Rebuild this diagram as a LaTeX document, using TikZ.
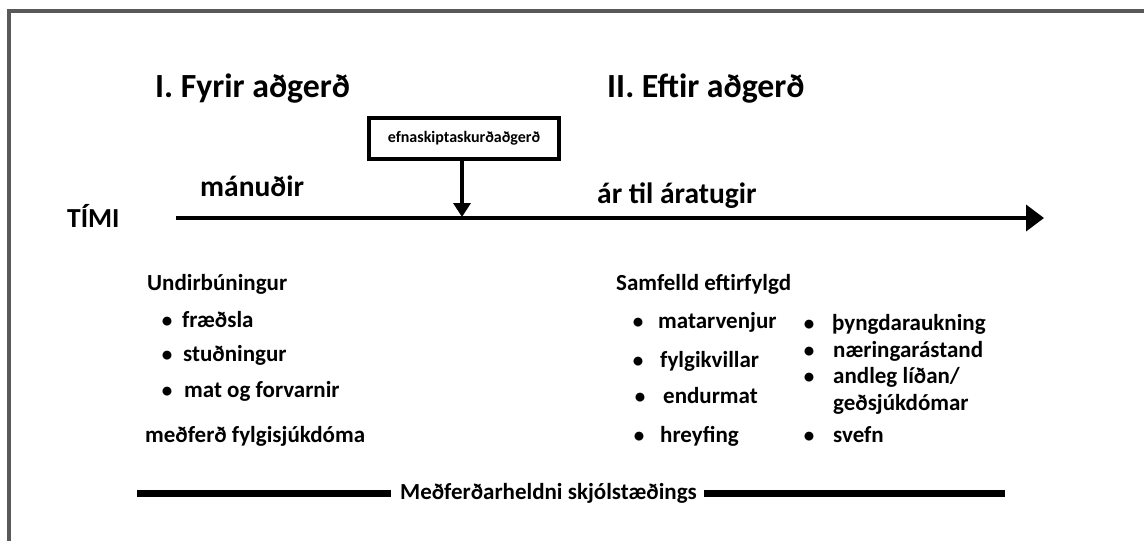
\documentclass[tikz,border=0pt]{standalone}
\usepackage{fontspec}
\setmainfont{Carlito}
\usetikzlibrary{arrows.meta}
\begin{document}
\begin{tikzpicture}[x=1pt,y=-1pt,
  txt/.style={anchor=base west,inner sep=0pt,font=\bfseries\fontsize{#1}{#1}\selectfont},
  title/.style={txt=33.8},
  item/.style={txt=23},
  dot/.style={anchor=base,inner sep=0pt,font=\bfseries\fontsize{21}{21}\selectfont},
  frameline/.style={draw=black!65,line width=3.5pt},
  axis/.style={line width=4pt,-{Triangle[width=26pt,length=18pt]}},
  pointer/.style={line width=4pt,-{Triangle[width=17pt,length=14pt]}},
  bar/.style={line width=7pt},
  opbox/.style={draw,line width=3.5pt,minimum width=190pt,minimum height=41pt,inner sep=0pt,font=\bfseries\fontsize{16}{16}\selectfont}
]
\useasboundingbox (0,0) rectangle (1144,541);
% outer frame (top and left edges)
\draw[frameline] (1144,11) -- (9,11) -- (9,541);

% phase titles
\node[title] (pre) at (155,97) {I. Fyrir aðgerð};
\node[title] (post) at (607,97) {II. Eftir aðgerð};

% time axis
\node[txt=27.5] (time) at (67,227) {TÍMI};
\coordinate (axstart) at (176,218);
\coordinate (axend) at (1044,218);
\draw[axis] (axstart) -- (axend);
\node[txt=29.5] (months) at (200,196) {mánuðir};
\node[txt=29.5] (years) at (597,203) {ár til áratugir};

% surgery marker
\node[opbox] (surgery) at (464,138.5) {efnaskiptaskurðaðgerð};
\coordinate (hit) at (462,217);
\draw[pointer] (surgery.south -| hit) -- (hit);

% before surgery
\node[item] (prep) at (147,290) {Undirbúningur};
\node[dot] (b1) at (167,327) {•};
\node[item] (l1) at (182,327) {fræðsla};
\node[dot] (b2) at (167,361) {•};
\node[item] (l2) at (183,361) {stuðningur};
\node[dot] (b3) at (167,397) {•};
\node[item] (l3) at (184,397) {mat og forvarnir};
\node[item] (comorb) at (145,442) {meðferð fylgisjúkdóma};

% after surgery
\node[item] (follow) at (616,290) {Samfelld eftirfylgd};
\node[dot] (r1) at (638,328) {•};
\node[item] (m1) at (658,328) {matarvenjur};
\node[dot] (r2) at (638,367) {•};
\node[item] (m2) at (660,367) {fylgikvillar};
\node[dot] (r3) at (640,403) {•};
\node[item] (m3) at (663,403) {endurmat};
\node[dot] (r4) at (639,442) {•};
\node[item] (m4) at (660,442) {hreyfing};
\node[dot] (s1) at (809,330) {•};
\node[item] (n1) at (832,330) {þyngdaraukning};
\node[dot] (s2) at (809,357) {•};
\node[item] (n2) at (833,357) {næringarástand};
\node[dot] (s3) at (809,383) {•};
\node[item] (n3) at (833,383) {andleg líðan/};
\node[item] (n3b) at (833,410) {geðsjúkdómar};
\node[dot] (s4) at (809,442) {•};
\node[item] (n4) at (833,442) {svefn};

% adherence bar
\node[item,anchor=west] (adh) at (400,493) {Meðferðarheldni skjólstæðings};
\coordinate (barL) at (137,493);
\coordinate (barR) at (1005,493);
\draw[bar] (barL) -- ([xshift=-9pt]adh.west);
\draw[bar] ([xshift=7pt]adh.east) -- (barR);
\end{tikzpicture}
\end{document}
